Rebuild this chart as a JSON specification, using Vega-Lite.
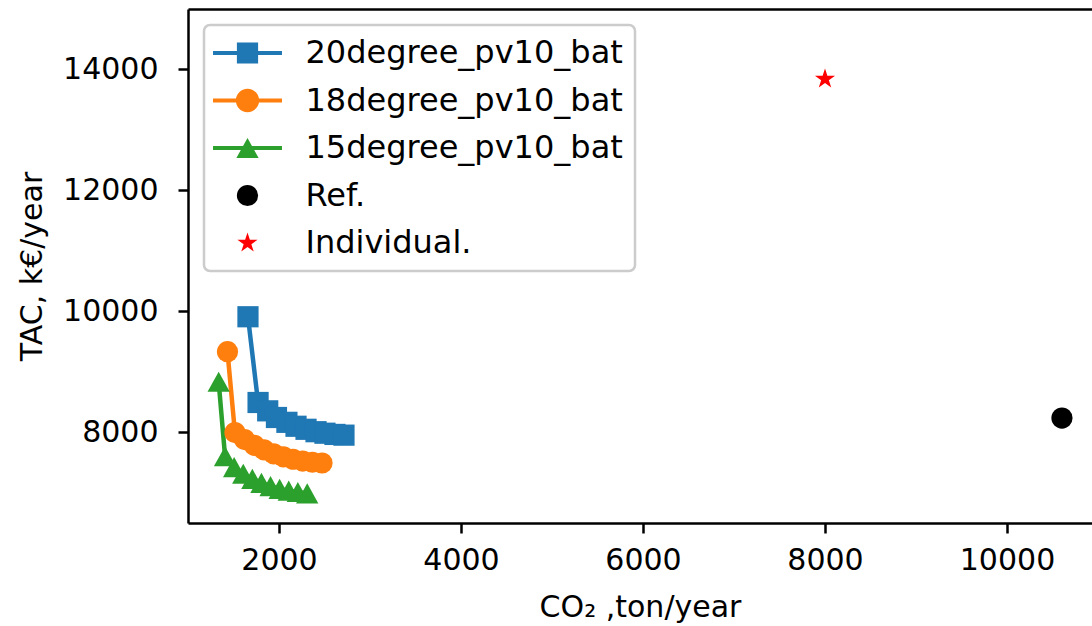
{
  "$schema": "https://vega.github.io/schema/vega-lite/v6.json",
  "width": 904,
  "height": 514,
  "autosize": {"type": "none"},
  "padding": {"left": 188, "top": 9, "right": 0, "bottom": 103},
  "background": "white",
  "config": {
    "view": {"stroke": null},
    "font": "DejaVu Sans",
    "axis": {
      "grid": false,
      "domainColor": "black",
      "domainWidth": 2.5,
      "tickColor": "black",
      "tickWidth": 2.5,
      "tickSize": 10,
      "labelFont": "DejaVu Sans",
      "labelFontSize": 30,
      "labelColor": "black",
      "titleFont": "DejaVu Sans",
      "titleFontSize": 30,
      "titleFontWeight": "normal",
      "titleColor": "black"
    }
  },
  "data": {
    "values": [
      {"series": "20degree_pv10_bat", "co2": 1659, "tac": 9905},
      {"series": "20degree_pv10_bat", "co2": 1770, "tac": 8488},
      {"series": "20degree_pv10_bat", "co2": 1876, "tac": 8350},
      {"series": "20degree_pv10_bat", "co2": 1972, "tac": 8240},
      {"series": "20degree_pv10_bat", "co2": 2087, "tac": 8160},
      {"series": "20degree_pv10_bat", "co2": 2187, "tac": 8095},
      {"series": "20degree_pv10_bat", "co2": 2297, "tac": 8045},
      {"series": "20degree_pv10_bat", "co2": 2407, "tac": 8005},
      {"series": "20degree_pv10_bat", "co2": 2505, "tac": 7980},
      {"series": "20degree_pv10_bat", "co2": 2615, "tac": 7960},
      {"series": "20degree_pv10_bat", "co2": 2714, "tac": 7948},
      {"series": "18degree_pv10_bat", "co2": 1434, "tac": 9327},
      {"series": "18degree_pv10_bat", "co2": 1516, "tac": 7990},
      {"series": "18degree_pv10_bat", "co2": 1622, "tac": 7875},
      {"series": "18degree_pv10_bat", "co2": 1729, "tac": 7780},
      {"series": "18degree_pv10_bat", "co2": 1835, "tac": 7705},
      {"series": "18degree_pv10_bat", "co2": 1941, "tac": 7640},
      {"series": "18degree_pv10_bat", "co2": 2048, "tac": 7590},
      {"series": "18degree_pv10_bat", "co2": 2154, "tac": 7550},
      {"series": "18degree_pv10_bat", "co2": 2260, "tac": 7520},
      {"series": "18degree_pv10_bat", "co2": 2367, "tac": 7500},
      {"series": "18degree_pv10_bat", "co2": 2473, "tac": 7488},
      {"series": "15degree_pv10_bat", "co2": 1337, "tac": 8831},
      {"series": "15degree_pv10_bat", "co2": 1407, "tac": 7600},
      {"series": "15degree_pv10_bat", "co2": 1507, "tac": 7420},
      {"series": "15degree_pv10_bat", "co2": 1607, "tac": 7310},
      {"series": "15degree_pv10_bat", "co2": 1707, "tac": 7225},
      {"series": "15degree_pv10_bat", "co2": 1807, "tac": 7160},
      {"series": "15degree_pv10_bat", "co2": 1907, "tac": 7105},
      {"series": "15degree_pv10_bat", "co2": 2007, "tac": 7060},
      {"series": "15degree_pv10_bat", "co2": 2107, "tac": 7030},
      {"series": "15degree_pv10_bat", "co2": 2207, "tac": 7008},
      {"series": "15degree_pv10_bat", "co2": 2310, "tac": 6985},
      {"series": "Ref.", "co2": 10604, "tac": 8231},
      {"series": "Individual.", "co2": 8000, "tac": 13835}
    ]
  },
  "layer": [
    {
      "transform": [{"filter": {"field": "series", "oneOf": ["20degree_pv10_bat", "18degree_pv10_bat", "15degree_pv10_bat"]}}],
      "mark": {"type": "line", "strokeWidth": 4.5, "clip": true},
      "encoding": {
        "x": {"field": "co2", "type": "quantitative", "scale": {"domain": [1000, 10934], "nice": false, "zero": false},
              "axis": {"orient": "bottom", "values": [2000, 4000, 6000, 8000, 10000], "format": "d", "labelPadding": 12, "labelFlush": false, "title": "CO₂ ,ton/year", "titlePadding": 17}},
        "y": {"field": "tac", "type": "quantitative", "scale": {"domain": [6496, 14992], "nice": false, "zero": false},
              "axis": {"values": [8000, 10000, 12000, 14000], "format": "d", "labelPadding": 20, "labelFlush": false, "title": "TAC, k€/year", "titlePadding": 15}},
        "color": {"field": "series", "type": "nominal", "legend": null,
                  "scale": {"domain": ["20degree_pv10_bat", "18degree_pv10_bat", "15degree_pv10_bat", "Ref.", "Individual."], "range": ["#1f77b4", "#ff7f0e", "#2ca02c", "black", "red"]}},
        "detail": {"field": "series"}
      }
    },
    {
      "mark": {"type": "point", "filled": true, "opacity": 1, "size": 450, "strokeWidth": 0, "clip": true},
      "encoding": {
        "x": {"field": "co2", "type": "quantitative", "axis": {"orient": "top", "labels": false, "ticks": false, "title": null, "domain": true}},
        "y": {"field": "tac", "type": "quantitative",
              "axis": {"values": [8000, 10000, 12000, 14000], "format": "d", "labelPadding": 20, "labelFlush": false, "title": "TAC, k€/year", "titlePadding": 15}},
        "color": {"field": "series", "type": "nominal", "legend": null,
                  "scale": {"domain": ["20degree_pv10_bat", "18degree_pv10_bat", "15degree_pv10_bat", "Ref.", "Individual."], "range": ["#1f77b4", "#ff7f0e", "#2ca02c", "black", "red"]}},
        "shape": {"field": "series", "type": "nominal", "legend": null,
                  "scale": {"domain": ["20degree_pv10_bat", "18degree_pv10_bat", "15degree_pv10_bat", "Ref.", "Individual."],
                            "range": ["square", "circle", "M0,-0.95L1.05,0.95L-1.05,0.95Z", "circle", "M0,-1L0.225,-0.309L0.951,-0.309L0.363,0.118L0.588,0.809L0,0.382L-0.588,0.809L-0.363,0.118L-0.951,-0.309L-0.225,-0.309Z"]}}
      }
    },
    {
      "data": {"values": []},
      "mark": {"type": "point", "filled": true, "opacity": 1, "size": 450, "strokeWidth": 0},
      "encoding": {
        "x": {"field": "co2", "type": "quantitative", "axis": null},
        "y": {"field": "tac", "type": "quantitative",
              "axis": {"values": [8000, 10000, 12000, 14000], "format": "d", "labelPadding": 20, "labelFlush": false, "title": "TAC, k€/year", "titlePadding": 15}},
        "color": {"field": "series", "type": "nominal",
                  "scale": {"domain": ["20degree_pv10_bat", "18degree_pv10_bat", "15degree_pv10_bat", "Ref.", "Individual."], "range": ["#1f77b4", "#ff7f0e", "#2ca02c", "black", "red"]},
                  "legend": {"title": null, "orient": "none", "legendX": 16, "legendY": 16, "padding": 12, "rowPadding": 15.5, "symbolOffset": 15.5, "labelOffset": 42, "labelLimit": 600,
                             "labelFont": "DejaVu Sans", "labelFontSize": 32, "labelColor": "black", "symbolSize": 450, "symbolStrokeWidth": 0, "symbolOpacity": 1,
                             "fillColor": "rgba(255,255,255,0.8)", "strokeColor": "#cccccc", "cornerRadius": 6,
                             "encode": {"legend": {"update": {"strokeWidth": {"value": 2.5}}}}}},
        "shape": {"field": "series", "type": "nominal",
                  "scale": {"domain": ["20degree_pv10_bat", "18degree_pv10_bat", "15degree_pv10_bat", "Ref.", "Individual."],
                            "range": ["M-3.25,-0.19H3.25V0.19H-3.25ZM-1,-1H1V1H-1Z",
                                      "M-3.25,-0.19H3.25V0.19H-3.25ZM-1.1,0A1.1,1.1 0 1,1 1.1,0A1.1,1.1 0 1,1 -1.1,0Z",
                                      "M-3.25,-0.19H3.25V0.19H-3.25ZM0,-0.95L1.05,0.95H-1.05Z",
                                      "circle",
                                      "M0,-1L0.225,-0.309L0.951,-0.309L0.363,0.118L0.588,0.809L0,0.382L-0.588,0.809L-0.363,0.118L-0.951,-0.309L-0.225,-0.309Z"]},
                  "legend": {"title": null, "orient": "none", "legendX": 16, "legendY": 16, "padding": 12, "rowPadding": 15.5, "symbolOffset": 15.5, "labelOffset": 42, "labelLimit": 600,
                             "labelFont": "DejaVu Sans", "labelFontSize": 32, "labelColor": "black", "symbolSize": 450, "symbolStrokeWidth": 0, "symbolOpacity": 1,
                             "fillColor": "rgba(255,255,255,0.8)", "strokeColor": "#cccccc", "cornerRadius": 6,
                             "encode": {"legend": {"update": {"strokeWidth": {"value": 2.5}}}}}}
      }
    }
  ],
  "resolve": {"scale": {"color": "independent", "shape": "independent"}, "axis": {"x": "independent"}}
}
